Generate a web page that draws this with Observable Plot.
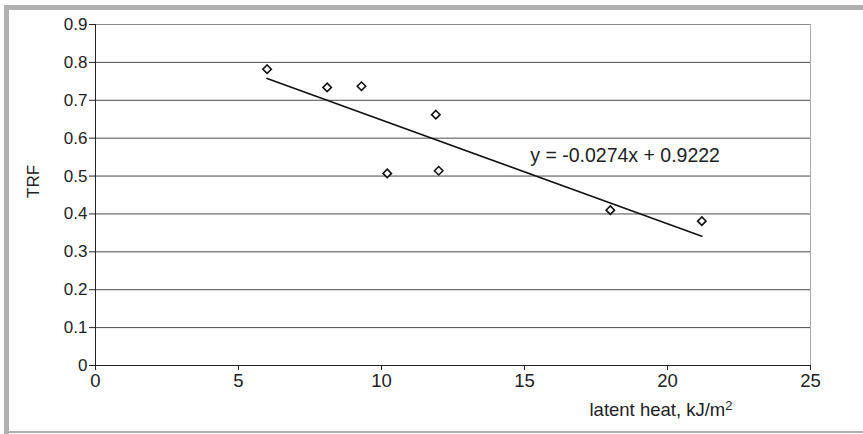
<!DOCTYPE html>
<html>
<head>
<meta charset="utf-8">
<script src="https://cdn.jsdelivr.net/npm/d3@7"></script>
<script src="https://cdn.jsdelivr.net/npm/@observablehq/plot@0.6"></script>
<style>
  html, body { margin: 0; padding: 0; background: #fff; }
  #wrap { position: relative; width: 863px; height: 434px; overflow: hidden; }
  #wrap svg { position: absolute; left: 0; top: 0; }
  .bar { position: absolute; background: #b0b0b0; }
</style>
</head>
<body>
<div id="wrap">
  <div class="bar" style="left:4px; top:5px; width:5px; height:429px;"></div>
  <div class="bar" style="left:4px; top:5px; width:859px; height:5px;"></div>
  <div class="bar" style="left:4px; top:431px; width:859px; height:2px;"></div>
</div>
<script>
// Data
const latentHeat = [6.0, 8.1, 9.3, 10.2, 11.9, 12.0, 18.0, 21.2];
const trf = [0.782, 0.734, 0.737, 0.507, 0.662, 0.514, 0.410, 0.381];

// Trendline coefficients shown on the chart
const slope = -0.0274;
const intercept = 0.9222;

// Tick values
const xTicks = [0, 5, 10, 15, 20, 25];
const yTicks = [0, 0.1, 0.2, 0.3, 0.4, 0.5, 0.6, 0.7, 0.8, 0.9];

const xLabelMain = "latent heat, kJ/m";
const xLabelSup = "2";
const yLabel = "TRF";
const eqLabel = `y = ${slope}x + ${intercept}`;

const points = latentHeat.map((x, i) => ({x, y: trf[i]}));
const [xMin, xMax] = d3.extent(latentHeat);
const trend = [xMin, xMax].map(x => ({x, y: slope * x + intercept}));

const font = "'Liberation Sans', Arial, sans-serif";

const chart = Plot.plot({
  width: 863,
  height: 434,
  marginLeft: 95,
  marginRight: 53,
  marginTop: 24,
  marginBottom: 69,
  style: {fontFamily: font, fontSize: "17px", color: "#222", background: "transparent"},
  x: {domain: [0, 25]},
  y: {domain: [0, 0.9]},
  marks: [
    Plot.ruleY(yTicks.filter(d => d > 0 && d < 0.9), {stroke: "#4a4a4a", strokeWidth: 1}),
    Plot.ruleY([0.9], {stroke: "#888", strokeWidth: 1}),
    Plot.ruleX([25], {stroke: "#aaa", strokeWidth: 1}),
    Plot.ruleX([0], {stroke: "#222", strokeWidth: 1}),
    Plot.ruleY([0], {stroke: "#222", strokeWidth: 1}),
    Plot.axisY({ticks: yTicks, tickFormat: d => String(d), tickSize: 6, tickPadding: 2, label: null, stroke: "#222", fontSize: 17}),
    Plot.axisX({ticks: xTicks, tickFormat: d => String(d), tickSize: 5, tickPadding: 3, label: null, stroke: "#222", fontSize: 18.5}),
    Plot.line(trend, {x: "x", y: "y", stroke: "#111", strokeWidth: 1.6}),
    Plot.dot(points, {x: "x", y: "y", symbol: "diamond2", r: 3.8, stroke: "#111", strokeWidth: 1.6, fill: "white"}),
    Plot.text([eqLabel], {x: () => 15.2, y: () => 0.553, text: d => d, textAnchor: "start", fontSize: 19.5, fill: "#222"}),
    Plot.text([xLabelMain], {frameAnchor: "bottom-right", text: d => d, textAnchor: "start", dx: -221, dy: 50, fontSize: 18.5, fill: "#222"}),
    Plot.text([yLabel], {frameAnchor: "left", text: d => d, rotate: -90, dx: -62, dy: 3, fontSize: 17, fill: "#222"})
  ]
});
document.getElementById("wrap").prepend(chart);

// add the superscript to the x-axis label
chart.querySelectorAll("text").forEach(t => {
  if (t.textContent === xLabelMain) {
    const ts = document.createElementNS("http://www.w3.org/2000/svg", "tspan");
    ts.setAttribute("dy", "-0.45em");
    ts.setAttribute("font-size", "13");
    ts.textContent = xLabelSup;
    t.appendChild(ts);
  }
});
</script>
</body>
</html>
